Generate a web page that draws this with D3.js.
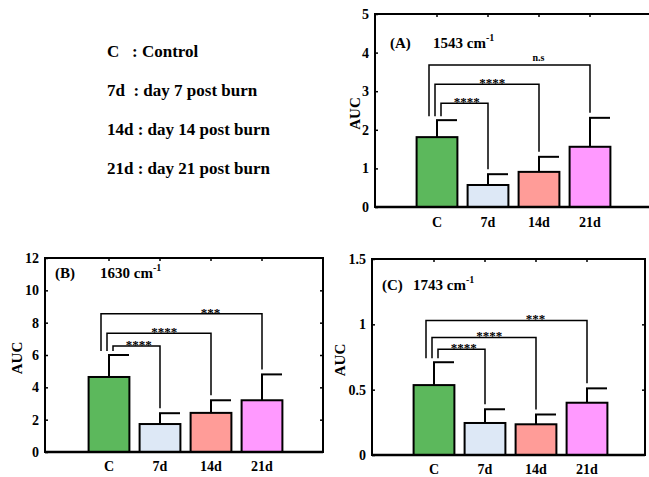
<!DOCTYPE html>
<html>
<head>
<meta charset="utf-8">
<script src="https://cdn.jsdelivr.net/npm/d3@7"></script>
<style>
  body { margin: 0; background: #fff; }
  svg text { font-family: "Liberation Serif", "Times New Roman", serif; font-weight: bold; }
</style>
</head>
<body>
<script>
// groups shared by the three panels
var groups = ["C", "7d", "14d", "21d"];
var colors = ["#5cb85c", "#dde8f6", "#ff9c98", "#ff99ff"];

// legend
var legendKeys = ["C", "7d", "14d", "21d"];
var legendText = ["Control", "day 7 post burn", "day 14 post burn", "day 21 post burn"];

// panel A : 1543 cm-1
var aucA = [1.81, 0.57, 0.91, 1.56];
var errA = [0.44, 0.28, 0.39, 0.75];
var sigA = ["****", "****", "n.s"];
var sigYA = [2.69, 3.18, 3.68];
var ticksA = [0, 1, 2, 3, 4, 5];

// panel B : 1630 cm-1
var aucB = [4.64, 1.73, 2.42, 3.2];
var errB = [1.36, 0.67, 0.78, 1.6];
var sigB = ["****", "****", "***"];
var sigYB = [6.56, 7.35, 8.55];
var ticksB = [0, 2, 4, 6, 8, 10, 12];

// panel C : 1743 cm-1
var aucC = [0.535, 0.245, 0.235, 0.40];
var errC = [0.175, 0.105, 0.075, 0.11];
var sigC = ["****", "****", "***"];
var sigYC = [0.81, 0.90, 1.03];
var ticksC = [0, 0.5, 1, 1.5];

var width = 649, height = 477;

var svg = d3.select("body").append("svg")
    .attr("width", width)
    .attr("height", height);

// legend block
svg.append("g").selectAll("text")
    .data(legendKeys)
    .enter().append("text")
    .attr("x", 107)
    .attr("y", function (d, i) { return 57 + i * 39; })
    .attr("font-size", 17)
    .style("white-space", "pre")
    .text(function (d, i) { return d + (d.length == 1 ? "   " : d.length == 2 ? "  " : " ") + ": " + legendText[i]; });

drawPanel({
    letter: "(A)", wave: "1543", values: aucA, errors: errA, sig: sigA, sigY: sigYA,
    ticks: ticksA, tickFmt: d3.format("d"), ymax: 5,
    left: 375, right: 652, top: 14, bottom: 207, x0: 411.5,
    titleX: 390, waveX: 433, titleY: 48, aucX: 360, xlabY: 227
});

drawPanel({
    letter: "(B)", wave: "1630", values: aucB, errors: errB, sig: sigB, sigY: sigYB,
    ticks: ticksB, tickFmt: d3.format("d"), ymax: 12,
    left: 45, right: 323, top: 258, bottom: 452, x0: 83.5,
    titleX: 55, waveX: 100, titleY: 278, aucX: 22, xlabY: 471
});

drawPanel({
    letter: "(C)", wave: "1743", values: aucC, errors: errC, sig: sigC, sigY: sigYC,
    ticks: ticksC, tickFmt: function (d) { return String(d); }, ymax: 1.5,
    left: 372, right: 645, top: 259, bottom: 455, x0: 408.5,
    titleX: 382, waveX: 413, titleY: 290, aucX: 345, xlabY: 474
});

/////////////////////////////////////////

function drawPanel(p) {
    var g = svg.append("g");

    var x = d3.scaleBand()
        .domain(groups)
        .range([p.x0, p.x0 + 204])
        .paddingInner(0.2)
        .paddingOuter(0.1);

    var y = d3.scaleLinear()
        .domain([0, p.ymax])
        .range([p.bottom, p.top]);

    var cx = function (d) { return x(d) + x.bandwidth() / 2; };

    // frame
    g.append("rect")
        .attr("x", p.left).attr("y", p.top)
        .attr("width", p.right - p.left).attr("height", p.bottom - p.top)
        .attr("fill", "none").attr("stroke", "#000").attr("stroke-width", 2);

    // left axis with inward ticks
    var yAxis = g.append("g")
        .attr("transform", "translate(" + p.left + ",0)")
        .call(d3.axisLeft(y).tickValues(p.ticks).tickFormat(p.tickFmt).tickSize(-3).tickPadding(6));
    yAxis.select(".domain").remove();
    yAxis.selectAll("line").attr("stroke-width", 1.5);
    yAxis.selectAll("text")
        .attr("font-size", 14)
        .attr("font-family", "Liberation Serif, serif")
        .attr("font-weight", "bold")
        .attr("fill", "#000");

    // right side inward ticks
    var rAxis = g.append("g")
        .attr("transform", "translate(" + p.right + ",0)")
        .call(d3.axisRight(y).tickValues(p.ticks.slice(1, -1)).tickSize(-3).tickFormat(""));
    rAxis.select(".domain").remove();
    rAxis.selectAll("line").attr("stroke-width", 1.5);

    // top ticks at the groups
    var tAxis = g.append("g")
        .attr("transform", "translate(0," + p.top + ")")
        .call(d3.axisTop(x).tickSize(-3).tickFormat(""));
    tAxis.select(".domain").remove();
    tAxis.selectAll("line").attr("stroke-width", 1.5);

    // bottom axis labels
    var xAxis = g.append("g")
        .attr("transform", "translate(0," + p.bottom + ")")
        .call(d3.axisBottom(x).tickSize(0).tickPadding(0));
    xAxis.select(".domain").remove();
    xAxis.selectAll("text")
        .attr("y", null).attr("dy", null)
        .attr("transform", "translate(0," + (p.xlabY - p.bottom) + ")")
        .attr("font-size", 14)
        .attr("font-family", "Liberation Serif, serif")
        .attr("font-weight", "bold")
        .attr("fill", "#000");

    // error bars (half cap to the right)
    var eb = g.selectAll(".err")
        .data(groups)
        .enter().append("g");
    eb.append("line")
        .attr("x1", cx).attr("x2", cx)
        .attr("y1", function (d, i) { return y(p.values[i]); })
        .attr("y2", function (d, i) { return y(p.values[i] + p.errors[i]); })
        .attr("stroke", "#000").attr("stroke-width", 2);
    eb.append("line")
        .attr("x1", function (d) { return cx(d) - 1; })
        .attr("x2", function (d) { return cx(d) + 20; })
        .attr("y1", function (d, i) { return y(p.values[i] + p.errors[i]); })
        .attr("y2", function (d, i) { return y(p.values[i] + p.errors[i]); })
        .attr("stroke", "#000").attr("stroke-width", 2);

    // bars
    g.selectAll(".bar")
        .data(groups)
        .enter().append("rect")
        .attr("x", function (d) { return x(d); })
        .attr("y", function (d, i) { return y(p.values[i]); })
        .attr("width", x.bandwidth())
        .attr("height", function (d, i) { return p.bottom - y(p.values[i]); })
        .attr("fill", function (d, i) { return colors[i]; })
        .attr("stroke", "#000")
        .attr("stroke-width", 2);

    // bottom line on top of bars
    g.append("line")
        .attr("x1", p.left).attr("x2", p.right)
        .attr("y1", p.bottom).attr("y2", p.bottom)
        .attr("stroke", "#000").attr("stroke-width", 2.5);

    // significance brackets, C vs each later group
    var legOff = [4, -2, -8];
    var labFrac = [0.55, 0.55, 0.68];
    var cTop = y(p.values[0] + p.errors[0]) - 4;
    p.sig.forEach(function (s, k) {
        var j = k + 1;
        var xl = cx("C") + legOff[k],
            xr = cx(groups[j]),
            yy = y(p.sigY[k]),
            yr = y(p.values[j] + p.errors[j]) - 5;
        g.append("path")
            .attr("d", "M" + xl + "," + cTop + "V" + yy + "H" + xr + "V" + yr)
            .attr("fill", "none").attr("stroke", "#000").attr("stroke-width", 1.5);
        g.append("text")
            .attr("x", xl + (xr - xl) * labFrac[k])
            .attr("y", s == "n.s" ? yy - 4 : yy + 3)
            .attr("text-anchor", "middle")
            .attr("font-size", s == "n.s" ? 10 : 13)
            .attr("font-weight", s == "n.s" ? "normal" : "bold")
            .text(s);
    });

    // title
    g.append("text")
        .attr("x", p.titleX).attr("y", p.titleY)
        .attr("font-size", 15)
        .text(p.letter);
    var t = g.append("text")
        .attr("x", p.waveX).attr("y", p.titleY)
        .attr("font-size", 15);
    t.append("tspan").text(p.wave + " cm");
    t.append("tspan").attr("dy", -7).attr("font-size", 10).text("-1");

    // y label
    g.append("text")
        .attr("transform", "translate(" + p.aucX + "," + ((p.top + p.bottom) / 2 + 3) + ") rotate(-90)")
        .attr("text-anchor", "middle")
        .attr("font-size", 15)
        .text("AUC");
}
</script>
</body>
</html>
